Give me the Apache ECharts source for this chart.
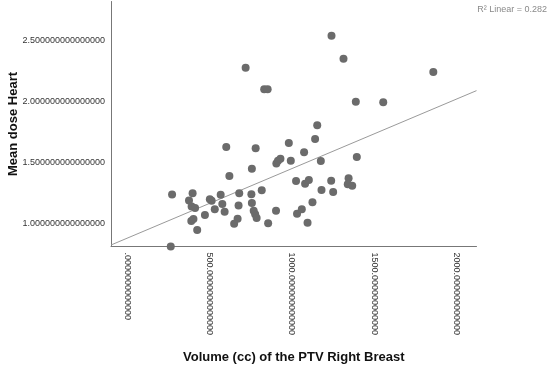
<!DOCTYPE html>
<html>
<head>
<meta charset="utf-8">
<script src="https://cdn.jsdelivr.net/npm/echarts@6/dist/echarts.min.js"></script>
<style>html,body{margin:0;padding:0;background:#fff}#c{width:550px;height:369px}</style>
</head>
<body>
<div id="c"></div>
<script>
// Volume (cc) of the PTV Right Breast
var volume = [270,395,373,389,410,500,511,566,576,530,470,387,400,423,590,619,600,718,831,852,
  779,756,679,675,753,816,756,767,776,785,669,648,855,903,262,905,915,930,981,1141,
  993,1074,1176,1395,1025,1080,1103,1239,1180,1251,1345,1340,1367,1125,1031,1060,1095,1241,1314,1861,
  1389,1556,1154];
// Mean dose Heart
var meanDose = [1.237,1.247,1.188,1.139,1.127,1.198,1.186,1.235,1.159,1.116,1.069,1.020,1.037,0.947,1.096,1.388,1.625,2.274,2.097,2.097,
  1.615,1.448,1.247,1.147,1.239,1.271,1.168,1.104,1.075,1.045,1.038,0.998,1.002,1.105,0.812,1.490,1.513,1.530,1.658,1.691,
  1.513,1.582,1.511,1.544,1.347,1.325,1.356,1.350,1.274,1.258,1.369,1.320,1.309,1.173,1.080,1.116,1.007,2.535,2.347,2.238,
  1.996,1.991,1.803];
var xTickValues = [0, 500, 1000, 1500, 2000];
var xTickLabels = ['.0000000000000', '500.0000000000000', '1000.000000000000', '1500.000000000000', '2000.000000000000'];
var yTickValues = [1.0, 1.5, 2.0, 2.5];
var yTickLabels = ['1.000000000000000', '1.500000000000000', '2.000000000000000', '2.500000000000000'];
var fitIntercept = 0.882;
var fitSlope = 0.000567;
var r2Text = 'R\u00b2 Linear = 0.282';

var xMin = -102, xMax = 2124, yMin = 0.812, yMax = 2.815;
var points = volume.map(function (v, i) { return [v, meanDose[i]]; });
var fitLine = [[xMin, fitIntercept + fitSlope * xMin], [xMax, fitIntercept + fitSlope * xMax]];

var chart = echarts.init(document.getElementById('c'), null, {renderer: 'canvas'});
var font = 'Liberation Sans, Arial, sans-serif';
chart.setOption({
  animation: false,
  backgroundColor: '#ffffff',
  grid: {left: 111, right: 73.5, top: 1.5, bottom: 122.5, containLabel: false, outerBoundsMode: 'none'},
  xAxis: {
    type: 'value', min: xMin, max: xMax,
    name: 'Volume (cc) of the PTV Right Breast', nameLocation: 'middle', nameGap: 104,
    nameTextStyle: {fontFamily: font, fontSize: 13, fontWeight: 'bold', color: '#111'},
    axisLine: {show: true, onZero: false, lineStyle: {color: '#777', width: 1}},
    axisTick: {show: false},
    splitLine: {show: false},
    axisLabel: {
      customValues: xTickValues, rotate: -90, margin: 6,
      fontFamily: font, fontSize: 9, color: '#333',
      formatter: function (v) { var i = xTickValues.indexOf(v); return i >= 0 ? xTickLabels[i] : ''; }
    }
  },
  yAxis: {
    type: 'value', min: yMin, max: yMax,
    name: 'Mean dose Heart', nameLocation: 'middle', nameGap: 91, nameMoveOverlap: false,
    nameTextStyle: {fontFamily: font, fontSize: 13, fontWeight: 'bold', color: '#111'},
    axisLine: {show: true, onZero: false, lineStyle: {color: '#777', width: 1}},
    axisTick: {show: false},
    splitLine: {show: false},
    axisLabel: {
      customValues: yTickValues, margin: 6,
      fontFamily: font, fontSize: 9, color: '#333',
      formatter: function (v) {
        for (var i = 0; i < yTickValues.length; i++) { if (Math.abs(yTickValues[i] - v) < 1e-9) return yTickLabels[i]; }
        return '';
      }
    }
  },
  graphic: [{
    type: 'text', right: 3, top: 5,
    style: {text: r2Text, fontFamily: font, fontSize: 9, fill: '#8a8a8a'}
  }],
  series: [
    {
      type: 'line', data: fitLine, symbol: 'none', silent: true, z: 1,
      lineStyle: {color: '#9a9a9a', width: 1}
    },
    {
      type: 'scatter', data: points, symbol: 'circle', symbolSize: 8, z: 2,
      itemStyle: {color: '#6b6b6b', opacity: 1}
    }
  ]
});
</script>
</body>
</html>
